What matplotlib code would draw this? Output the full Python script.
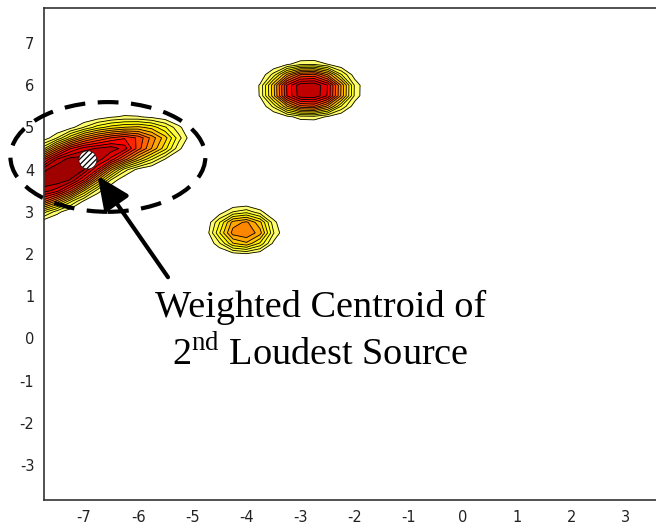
import numpy as np
import matplotlib
matplotlib.use("Agg")
import matplotlib.pyplot as plt
from matplotlib.colors import LinearSegmentedColormap
from matplotlib.patches import Ellipse

# sources: centre, peak, spread (major, minor), angle in degrees
src_x = [-7.4, -5.9, -2.85, -4.05]
src_y = [3.95, 4.6, 5.88, 2.55]
src_peak = [1.0, 0.45, 0.95, 0.55]
src_sx = [1.05, 0.5, 0.5, 0.37]
src_sy = [0.42, 0.3, 0.36, 0.32]
src_ang = [36, 20, 0, 0]

x_ticks = [-7, -6, -5, -4, -3, -2, -1, 0, 1, 2, 3]
y_ticks = [-3, -2, -1, 0, 1, 2, 3, 4, 5, 6, 7]

centroid = (-6.93, 4.23)
arrow_tail = (-5.45, 1.45)
arrow_head = (-6.75, 3.85)
label_lines = ["Weighted Centroid of", r"2$^{\mathrm{nd}}$ Loudest Source"]

plt.rcParams['mathtext.fontset'] = 'custom'
plt.rcParams['mathtext.rm'] = 'Liberation Serif'
plt.rcParams['hatch.linewidth'] = 0.9
plt.rcParams['axes.unicode_minus'] = False

# coarse grid, like the original
gx = np.arange(-8.0, 4.01, 0.25)
gy = np.arange(-4.0, 8.01, 0.25)
X, Y = np.meshgrid(gx, gy)
Z = np.zeros_like(X)
for cx, cy, p, sx, sy, a in zip(src_x, src_y, src_peak, src_sx, src_sy, src_ang):
    t = np.radians(a)
    u = (X - cx) * np.cos(t) + (Y - cy) * np.sin(t)
    v = -(X - cx) * np.sin(t) + (Y - cy) * np.cos(t)
    r2 = 0.5 * ((u / sx) ** 2 + (v / sy) ** 2)
    Z += p * np.exp(-r2 ** 1.5)

hot = plt.get_cmap('hot_r')
cmap = LinearSegmentedColormap.from_list('hh', hot(np.linspace(0.12, 0.8, 64)))
levels = np.linspace(0.1, 1.0, 15)

fig = plt.figure(figsize=(6.56, 5.29), dpi=100)
ax = fig.add_axes([44 / 656, 29 / 529, 614 / 656, 492 / 529])

ax.contourf(X, Y, Z, levels=levels, cmap=cmap, extend='max')
ax.contour(X, Y, Z, levels=levels, colors='k', linewidths=0.6)

ax.set_xlim(-7.74, 3.6)
ax.set_ylim(-3.83, 7.83)
ax.set_xticks(x_ticks)
ax.set_yticks(y_ticks)
ax.tick_params(length=0, labelsize=10.5, colors='#222222', pad=7)
for s in ax.spines.values():
    s.set_color('#333333')
    s.set_linewidth(1.2)

ax.add_patch(Ellipse((-6.56, 4.3), 3.6, 2.6, fill=False, ec='k', lw=3,
                     ls=(0, (5, 3)), clip_on=False, zorder=5))
ax.add_patch(Ellipse(centroid, 0.33, 0.43, fc='white', ec='k', lw=0.4,
                     hatch='//////', zorder=6))

ax.annotate('', xy=arrow_head, xytext=arrow_tail,
            arrowprops=dict(arrowstyle='-|>,head_length=1.0,head_width=0.45',
                            lw=3, color='k', shrinkA=0, shrinkB=0,
                            mutation_scale=20), zorder=7)

ax.text(-2.63, 0.74, label_lines[0], ha='center', va='center',
        family='Liberation Serif', fontsize=27.5)
ax.text(-2.63, -0.36, label_lines[1], ha='center', va='center',
        family='Liberation Serif', fontsize=27.5)

fig.savefig('out.png', dpi=100)
